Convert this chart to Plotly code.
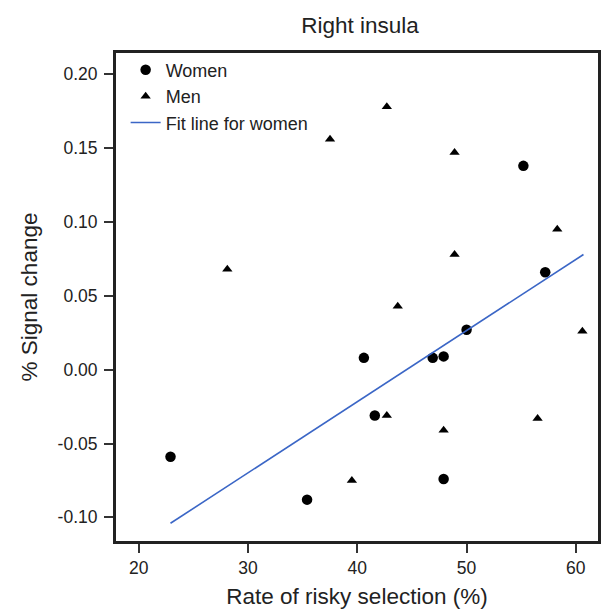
import plotly.graph_objects as go

women_x = [55.2, 57.2, 50.0, 40.6, 46.9, 47.9, 41.6, 22.9, 35.4, 47.9]
women_y = [0.138, 0.066, 0.027, 0.008, 0.008, 0.009, -0.031, -0.059, -0.088, -0.074]
men_x = [42.7, 37.5, 48.9, 28.1, 58.3, 48.9, 43.7, 60.6, 42.7, 47.9, 56.5, 39.5]
men_y = [0.178, 0.156, 0.147, 0.068, 0.095, 0.078, 0.043, 0.026, -0.031, -0.041, -0.033, -0.075]
fit_x = [22.9, 60.7]
fit_y = [-0.104, 0.078]
x_ticks = [20, 30, 40, 50, 60]
y_ticks = [0.20, 0.15, 0.10, 0.05, 0.00, -0.05, -0.10]
y_ticklabels = ["0.20", "0.15", "0.10", "0.05", "0.00", "-0.05", "-0.10"]

FONT = "Liberation Sans, Arial, sans-serif"

fig = go.Figure()
fig.add_trace(go.Scatter(x=women_x, y=women_y, mode="markers", name="Women",
                         marker=dict(symbol="circle", size=10.5, color="black")))
fig.add_trace(go.Scatter(x=men_x, y=men_y, mode="markers", name="Men",
                         marker=dict(symbol="triangle-up", size=9, color="black")))
fig.add_trace(go.Scatter(x=fit_x, y=fit_y, mode="lines", name="Fit line for women",
                         line=dict(color="#3b66c6", width=1.6)))

fig.update_layout(
    width=606, height=611,
    paper_bgcolor="white", plot_bgcolor="white",
    margin=dict(l=116, r=5, t=53, b=68),
    font=dict(family=FONT, color="#222"),
    title=dict(text="Right insula", font=dict(size=22.5, color="#222"),
               x=360/606, xref="container", xanchor="center",
               y=1-25/611, yref="container", yanchor="middle"),
    legend=dict(x=0.02, y=1.003, xanchor="left", yanchor="top",
                bgcolor="rgba(0,0,0,0)", font=dict(size=18, color="#222")),
    showlegend=True,
)
fig.update_xaxes(range=[17.91, 62.03], tickvals=x_ticks, ticks="outside", ticklen=9,
                 tickwidth=1.6, tickcolor="#333", showline=True, linewidth=3, linecolor="#222",
                 mirror=True, showgrid=False, zeroline=False,
                 tickfont=dict(size=17.5, color="#222"),
                 title=dict(text="Rate of risky selection (%)", font=dict(size=22.5, color="#222"), standoff=12))
fig.update_yaxes(range=[-0.116, 0.2144], tickvals=y_ticks, ticktext=y_ticklabels, ticks="outside",
                 ticklen=9, tickwidth=1.6, tickcolor="#333", showline=True, linewidth=3,
                 linecolor="#222", mirror=True, showgrid=False, zeroline=False,
                 ticklabelstandoff=3,
                 tickfont=dict(size=17.5, color="#222"),
                 title=dict(text="% Signal change", font=dict(size=22.5, color="#222"), standoff=14))

fig.write_html("out.html", config={"displayModeBar": False},
               post_script="document.body.style.margin='0';document.body.style.overflow='hidden';")
